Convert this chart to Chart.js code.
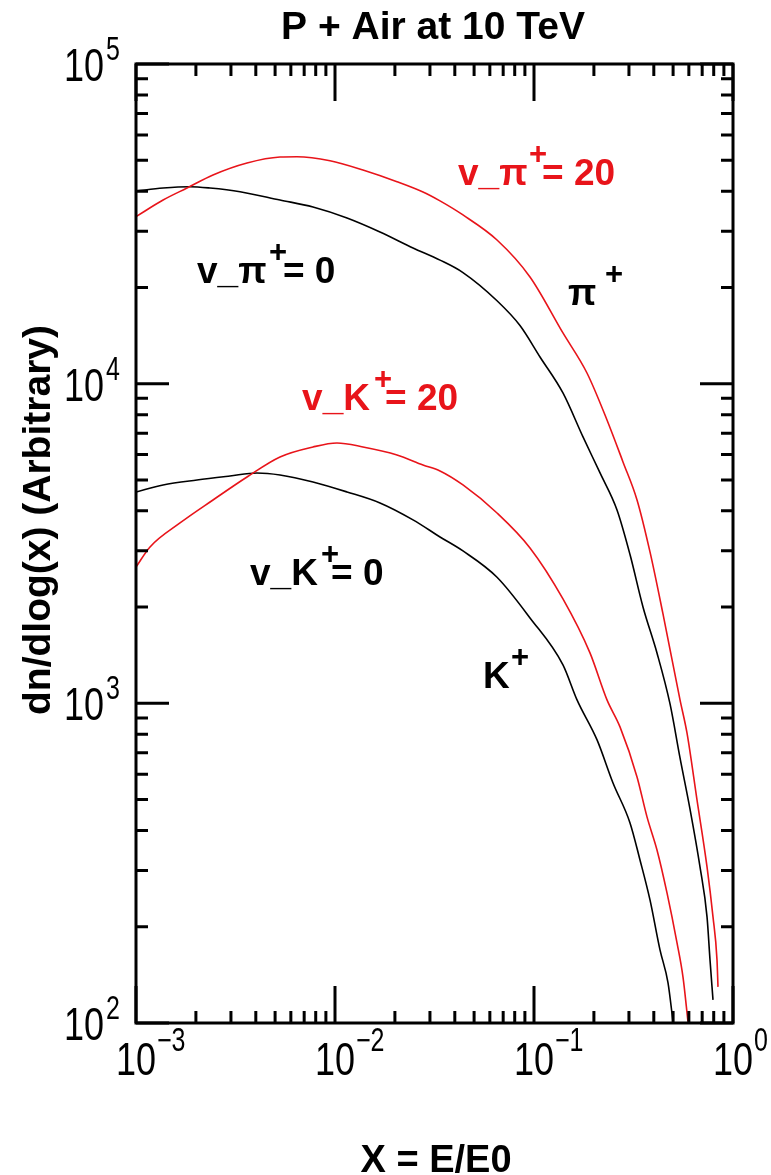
<!DOCTYPE html>
<html><head><meta charset="utf-8">
<script src="https://cdn.jsdelivr.net/npm/chart.js@4.4.0/dist/chart.umd.min.js"></script>
<style>html,body{margin:0;padding:0;background:#fff;}canvas{display:block;}</style>
</head><body>
<canvas id="c" width="771" height="1175"></canvas>
<script>
// ---- data (x = E/E0, y = dn/dlog(x)) ----
const piV0X = [0.001, 0.001368, 0.001866, 0.002355, 0.003333, 0.005292, 0.007754, 0.01149, 0.01683, 0.02466, 0.03370, 0.04396, 0.06519, 0.08503, 0.1072, 0.1398, 0.1763, 0.2147, 0.2613, 0.3037, 0.3529, 0.4150, 0.4826, 0.5417, 0.6078, 0.6826, 0.7404, 0.7664, 0.7934];
const piV0Y = [40060, 40930, 41320, 40930, 39860, 37540, 35700, 32980, 29820, 26580, 24350, 22260, 18170, 15200, 12120, 9353, 6814, 5256, 4026, 2920, 2002, 1437, 995.6, 674.9, 467.4, 307.8, 214.7, 157.6, 118.1];

const piV20X = [0.001, 0.001368, 0.001804, 0.002437, 0.003613, 0.005292, 0.006442, 0.009439, 0.01382, 0.02049, 0.02768, 0.03370, 0.04396, 0.06519, 0.09548, 0.1398, 0.1846, 0.2327, 0.2800, 0.3294, 0.3827, 0.4448, 0.5417, 0.5872, 0.6593, 0.7404, 0.7934, 0.8310, 0.8406];
const piV20Y = [33300, 37540, 40930, 44960, 49010, 51180, 51290, 49830, 46600, 42830, 39760, 37300, 33710, 28150, 21570, 14410, 10800, 7700, 5691, 4327, 2976, 1904, 1025, 808, 498.7, 307.8, 214.7, 157.6, 129.7];

const kV0X = [0.001, 0.001368, 0.002025, 0.002968, 0.004055, 0.005292, 0.007754, 0.01149, 0.01683, 0.02466, 0.03370, 0.04396, 0.06519, 0.09548, 0.1398, 0.1645, 0.2074, 0.2495, 0.3037, 0.3409, 0.3827, 0.4297, 0.4715, 0.4994];
const kV0Y = [4584, 4821, 4998, 5144, 5256, 5181, 4926, 4584, 4234, 3748, 3315, 2997, 2480, 1850, 1319, 1025, 768.3, 563.6, 422.6, 323.7, 242.7, 169.3, 133.5, 101];

const kV20X = [0.001, 0.001176, 0.001664, 0.002437, 0.003613, 0.005292, 0.007754, 0.01023, 0.01382, 0.02049, 0.02768, 0.03370, 0.04396, 0.06519, 0.09548, 0.1398, 0.1911, 0.2327, 0.2705, 0.3294, 0.3697, 0.4150, 0.4660, 0.5232, 0.5605, 0.5940];
const kV20Y = [2671, 3085, 3667, 4327, 5107, 5899, 6339, 6524, 6339, 5984, 5568, 5333, 4822, 3940, 3063, 2121, 1438, 1025, 843.8, 588.6, 441.3, 347.8, 255.2, 178.1, 139.4, 101];

// ---- axis ticks / labels ----
const xMajorTicks = [1e-3, 1e-2, 1e-1, 1];
const xTickExps = ['\u22123', '\u22122', '\u22121', '0'];
const yMajorTicks = [1e2, 1e3, 1e4, 1e5];
const yTickExps = ['2', '3', '4', '5'];
const minorMults = [2, 3, 4, 5, 6, 7, 8, 9];

const titleText = 'P + Air at 10 TeV';
const xTitleText = 'X = E/E0';
const yTitleText = 'dn/dlog(x) (Arbitrary)';

const RED = '#e8141a';
const BLACK = '#000000';

// annotations: main text, superscript, rest, colour, anchor (data coords of text start / baseline)
const notes = [
  {a: 'v_\u03c0', sup: '+', b: '= 20', color: RED,   x: 0.0415,   y: 41830, supDx: 80, restDx: 84},
  {a: 'v_\u03c0', sup: '+', b: '= 0',  color: BLACK, x: 0.002025, y: 20650, supDx: 81, restDx: 86},
  {a: '\u03c0',   sup: '+', b: '',     color: BLACK, x: 0.1483,   y: 17630, supDx: 46, restDx: 0},
  {a: 'v_K',      sup: '+', b: '= 20', color: RED,   x: 0.00683,  y: 8274,  supDx: 81, restDx: 83},
  {a: 'v_K',      sup: '+', b: '= 0',  color: BLACK, x: 0.00374,  y: 2346,  supDx: 80, restDx: 81},
  {a: 'K',        sup: '+', b: '',     color: BLACK, x: 0.0554,   y: 1117,  supDx: 37, restDx: 0}
];

const pts = (xs, ys) => xs.map((x, i) => ({x: x, y: ys[i]}));

function stretchText(c, txt, x, y, sy) {
  c.save();
  c.translate(x, y);
  c.scale(1, sy);
  c.fillText(txt, 0, 0);
  c.restore();
}

const decor = {
  id: 'decor',
  afterDraw(chart) {
    const c = chart.ctx, A = chart.chartArea;
    const xs = chart.scales.x, ys = chart.scales.y;
    c.save();
    c.strokeStyle = '#000';
    c.fillStyle = '#000';
    // ticks (inward, all four sides)
    c.lineWidth = 3;
    c.beginPath();
    const minorLen = 12, xMajLen = 37, yMajLen = 33;
    xMajorTicks.forEach((m, i) => {
      const px = xs.getPixelForValue(m);
      c.moveTo(px, A.bottom); c.lineTo(px, A.bottom - xMajLen);
      c.moveTo(px, A.top); c.lineTo(px, A.top + xMajLen);
      if (i < xMajorTicks.length - 1) minorMults.forEach(k => {
        const q = xs.getPixelForValue(m * k);
        c.moveTo(q, A.bottom); c.lineTo(q, A.bottom - minorLen);
        c.moveTo(q, A.top); c.lineTo(q, A.top + minorLen);
      });
    });
    yMajorTicks.forEach((m, i) => {
      const py = ys.getPixelForValue(m);
      c.moveTo(A.left, py); c.lineTo(A.left + yMajLen, py);
      c.moveTo(A.right, py); c.lineTo(A.right - yMajLen, py);
      if (i < yMajorTicks.length - 1) minorMults.forEach(k => {
        const q = ys.getPixelForValue(m * k);
        c.moveTo(A.left, q); c.lineTo(A.left + minorLen, q);
        c.moveTo(A.right, q); c.lineTo(A.right - minorLen, q);
      });
    });
    c.stroke();
    c.strokeRect(A.left, A.top, A.right - A.left, A.bottom - A.top);

    // tick labels
    const base = '"Liberation Sans", Arial, Helvetica, sans-serif';
    const SY = 1.3;
    c.textBaseline = 'alphabetic';
    c.textAlign = 'left';
    xMajorTicks.forEach((m, i) => {
      const px = xs.getPixelForValue(m);
      c.font = '36px ' + base;
      const w = c.measureText('10').width;
      stretchText(c, '10', px - w / 2, A.bottom + 52, SY);
      c.font = '25px ' + base;
      stretchText(c, xTickExps[i], px + w / 2 + 1, A.bottom + 28, SY);
    });
    yMajorTicks.forEach((m, i) => {
      const py = ys.getPixelForValue(m);
      c.font = '36px ' + base;
      const w = c.measureText('10').width;
      stretchText(c, '10', 104 - w, py + 17, SY);
      c.font = '25px ' + base;
      stretchText(c, yTickExps[i], 106, py - 4, SY);
    });

    // titles
    c.font = 'bold 39px ' + base;
    c.textAlign = 'center';
    c.fillText(titleText, 433, 39);
    c.font = 'bold 38px ' + base;
    c.fillText(xTitleText, 436, 1172);
    c.save();
    c.translate(50, 520);
    c.rotate(-Math.PI / 2);
    c.font = 'bold 39px ' + base;
    c.fillText(yTitleText, 0, 0);
    c.restore();

    // annotations
    notes.forEach(n => {
      const px = xs.getPixelForValue(n.x), py = ys.getPixelForValue(n.y);
      c.fillStyle = n.color;
      c.textAlign = 'left';
      c.font = 'bold 37px ' + base;
      c.fillText(n.a, px, py);
      c.font = 'bold 31px ' + base;
      c.textAlign = 'center';
      c.fillText(n.sup, px + n.supDx, py - 21);
      if (n.b) {
        c.textAlign = 'left';
        c.font = 'bold 37px ' + base;
        c.fillText(n.b, px + n.restDx, py);
      }
    });
    c.restore();
  }
};

const ds = (xs, ys, col) => ({
  data: pts(xs, ys), showLine: true, borderColor: col, backgroundColor: col,
  borderWidth: 1.6, pointRadius: 0, cubicInterpolationMode: 'monotone', fill: false
});

new Chart(document.getElementById('c').getContext('2d'), {
  type: 'scatter',
  data: {datasets: [
    ds(piV20X, piV20Y, RED),
    ds(piV0X, piV0Y, BLACK),
    ds(kV20X, kV20Y, RED),
    ds(kV0X, kV0Y, BLACK)
  ]},
  options: {
    responsive: false, animation: false, devicePixelRatio: 1,
    layout: {padding: {left: 136, right: 38, top: 64, bottom: 152}},
    plugins: {legend: {display: false}, tooltip: {enabled: false}, title: {display: false}},
    scales: {
      x: {type: 'logarithmic', min: 1e-3, max: 1, display: false},
      y: {type: 'logarithmic', min: 100, max: 1e5, display: false}
    }
  },
  plugins: [decor]
});
</script>
</body></html>
